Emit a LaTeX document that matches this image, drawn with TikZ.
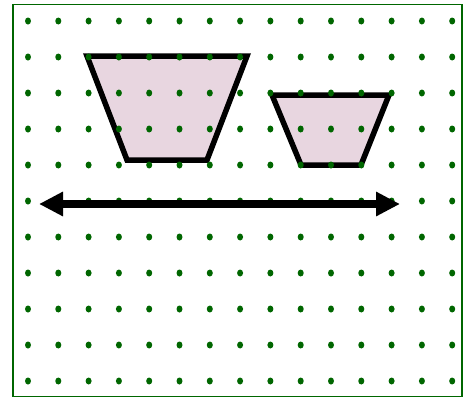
\documentclass[tikz,border=0pt]{standalone}
\usetikzlibrary{arrows.meta}

\definecolor{dotgreen}{RGB}{0,102,0}
\definecolor{trapfill}{RGB}{232,214,224}

\begin{document}
\begin{tikzpicture}[
  x=1pt, y=-1pt,
  gdot/.style={fill=dotgreen},
  frame/.style={draw=dotgreen, line width=1.7pt},
  trap/.style={draw=black, fill=trapfill, line width=5.5pt, line join=miter},
  dbl/.style={line width=8pt, {Triangle[length=24pt,width=23pt]}-{Triangle[length=24pt,width=23pt]}},
]
\useasboundingbox (0,0) rectangle (475,399);

\draw [frame] (13,4.5) rectangle (462,396.5);

% the two cups
\draw [trap] (87,56) -- (247,56) -- (207,160) -- (127,160) -- cycle;
\draw [trap] (272,95) -- (389,95) -- (361,165) -- (301,165) -- cycle;

% dot paper
\foreach \i in {0,...,14}
	\foreach \j in {0,...,10}
		\path [gdot] (28+30.3*\i,21+36*\j) ellipse [x radius=3pt, y radius=3.5pt];

\draw [dbl] (39,204) -- (400,204);

\end{tikzpicture}
\end{document}
